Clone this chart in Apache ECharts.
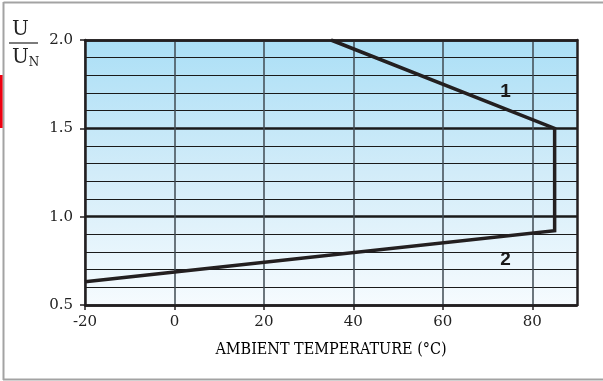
<!DOCTYPE html>
<html>
<head>
<meta charset="utf-8">
<script src="https://cdn.jsdelivr.net/npm/echarts@6/dist/echarts.min.js"></script>
<style>
  html, body { margin: 0; padding: 0; background: #fff; }
  #chart { width: 603px; height: 381px; }
</style>
</head>
<body>
<div id="chart"></div>
<script>
// Voltage ratio U/UN versus ambient temperature: limit envelope
const xTicks = [-20, 0, 20, 40, 60, 80];
const yTicks = [0.5, 1.0, 1.5, 2.0];
// Envelope outline: curve 1 (upper limit) down the 85 °C edge into curve 2 (lower limit)
const envelope = [[35, 2.0], [85, 1.5], [85, 0.92], [-20, 0.632]];
// Curve numbers placed beside the lines
const curveLabels = [
  { name: '1', value: [74, 1.706] },
  { name: '2', value: [74, 0.755] }
];

const ink = '#231f20';
const serif = 'DejaVu Serif';

const chart = echarts.init(document.getElementById('chart'), null, { renderer: 'canvas' });

chart.setOption({
  animation: false,
  grid: {
    left: 85, right: 26, top: 40, bottom: 76,
    show: true,
    borderWidth: 0,
    backgroundColor: {
      type: 'linear', x: 0, y: 0, x2: 0, y2: 1,
      colorStops: [
        { offset: 0, color: '#abdff6' },
        { offset: 0.5, color: '#d2ecf9' },
        { offset: 1, color: '#f6fbfe' }
      ]
    }
  },
  xAxis: [
    {
      type: 'value', min: -20, max: 90, interval: 10,
      axisLine: { show: true, onZero: false, lineStyle: { color: ink, width: 2.5 } },
      axisTick: { show: true, customValues: xTicks, length: 5, lineStyle: { color: ink, width: 1.5 } },
      axisLabel: {
        customValues: xTicks, margin: 10,
        color: '#222', fontFamily: serif, fontSize: 15
      },
      splitLine: { show: true, lineStyle: { color: '#3f4a52', width: 1.5 } },
      name: 'AMBIENT TEMPERATURE (°C)',
      nameLocation: 'middle', nameGap: 37,
      nameTextStyle: { color: '#000', fontFamily: 'DejaVu Serif Condensed', fontSize: 16 }
    },
    {
      type: 'value', min: -20, max: 90, position: 'top',
      axisLine: { show: true, onZero: false, lineStyle: { color: ink, width: 2.5 } },
      axisTick: { show: false }, axisLabel: { show: false }, splitLine: { show: false }
    }
  ],
  yAxis: [
    {
      type: 'value', min: 0.5, max: 2.0, interval: 0.5,
      axisLine: { show: true, onZero: false, lineStyle: { color: ink, width: 2.5 } },
      axisTick: { show: true, length: 5, lineStyle: { color: ink, width: 1.5 } },
      axisLabel: {
        margin: 12, color: '#222', fontFamily: serif, fontSize: 15,
        formatter: v => yTicks.find(t => Math.abs(t - v) < 1e-6).toFixed(1)
      },
      splitLine: { show: true, lineStyle: { color: '#1a1a1a', width: 2.5 } },
      minorTick: { show: false, splitNumber: 5 },
      minorSplitLine: { show: true, lineStyle: { color: '#1a1a1a', width: 1 } }
    },
    {
      type: 'value', min: 0.5, max: 2.0, position: 'right',
      axisLine: { show: true, onZero: false, lineStyle: { color: ink, width: 2.5 } },
      axisTick: { show: false }, axisLabel: { show: false }, splitLine: { show: false }
    }
  ],
  series: [
    {
      type: 'line',
      data: envelope,
      showSymbol: false,
      lineStyle: { color: ink, width: 3.5, cap: 'butt', join: 'miter' },
      z: 5
    },
    {
      type: 'scatter',
      data: curveLabels,
      symbolSize: 0,
      itemStyle: { opacity: 1 },
      label: {
        show: true, position: 'inside',
        formatter: p => p.name,
        color: '#1a1a1a', opacity: 1, textBorderWidth: 0,
        fontFamily: 'Liberation Sans', fontWeight: 'bold', fontSize: 19
      },
      z: 6
    }
  ],
  graphic: [
    // page frame and side tab
    { type: 'line', shape: { x1: 3.5, y1: 2.5, x2: 603, y2: 2.5 }, style: { stroke: '#a3a3a3', lineWidth: 2 } },
    { type: 'line', shape: { x1: 3.5, y1: 2, x2: 3.5, y2: 380 }, style: { stroke: '#a3a3a3', lineWidth: 2 } },
    { type: 'line', shape: { x1: 3, y1: 379.5, x2: 603, y2: 379.5 }, style: { stroke: '#a3a3a3', lineWidth: 2 } },
    { type: 'rect', shape: { x: 0, y: 75, width: 2.6, height: 53 }, style: { fill: '#ee0010' } },
    // axis quantity U / UN as a stacked fraction
    { type: 'text', left: 12, top: 20, style: { text: 'U', fill: '#222', font: '20px "DejaVu Serif"' } },
    { type: 'line', shape: { x1: 9, y1: 43, x2: 38, y2: 43 }, style: { stroke: '#333', lineWidth: 1.3 } },
    {
      type: 'text', left: 12, top: 48,
      style: {
        text: '{u|U}{n|N}',
        rich: {
          u: { fill: '#222', font: '20px "DejaVu Serif"' },
          n: { fill: '#222', font: '12px "DejaVu Serif"', padding: [10, 0, 0, 0] }
        }
      }
    }
  ]
});
</script>
</body>
</html>
